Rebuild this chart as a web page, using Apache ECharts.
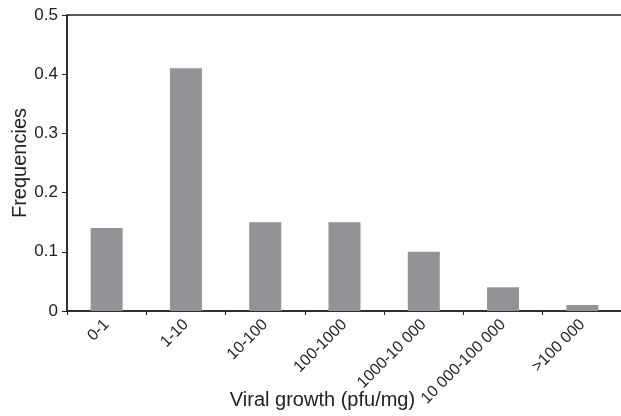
<!DOCTYPE html>
<html>
<head>
<meta charset="utf-8">
<script src="https://cdn.jsdelivr.net/npm/echarts@6/dist/echarts.min.js"></script>
<style>html,body{margin:0;padding:0;background:#fff;}#c{width:621px;height:416px;}</style>
</head>
<body>
<div id="c"></div>
<script>
const categories = ['0-1', '1-10', '10-100', '100-1000', '1000-10 000', '10 000-100 000', '>100 000'];
const frequencies = [0.14, 0.41, 0.15, 0.15, 0.10, 0.04, 0.01];
const yTicks = { min: 0, max: 0.5, interval: 0.1 };
const xName = 'Viral growth (pfu/mg)';
const yName = 'Frequencies';

const font = "'Liberation Sans', Arial, Helvetica, sans-serif";
const lineColor = '#222';
const chart = echarts.init(document.getElementById('c'), null, { renderer: 'canvas' });
chart.setOption({
  animation: false,
  backgroundColor: '#fff',
  grid: { left: 67, right: -1, top: 15, bottom: 105, containLabel: false, outerBoundsMode: 'none', show: true, borderColor: lineColor, borderWidth: 1.5, backgroundColor: 'transparent' },
  xAxis: {
    type: 'category',
    data: categories,
    name: xName,
    nameLocation: 'middle',
    nameGap: 79,
    nameMoveOverlap: false,
    nameTextStyle: { fontFamily: font, fontSize: 20, color: '#222', padding: [0, 44, 0, 0] },
    axisLine: { lineStyle: { color: lineColor, width: 1.5 } },
    axisTick: { show: true, length: 4, lineStyle: { color: lineColor } },
    axisLabel: { rotate: 45, margin: 11, fontFamily: font, fontSize: 16, color: '#222', interval: 0 }
  },
  yAxis: {
    type: 'value',
    min: yTicks.min, max: yTicks.max, interval: yTicks.interval,
    name: yName,
    nameLocation: 'middle',
    nameGap: 37,
    nameMoveOverlap: false,
    nameTextStyle: { fontFamily: font, fontSize: 20, color: '#222' },
    axisLine: { show: true, lineStyle: { color: lineColor, width: 1.5 } },
    axisTick: { show: true, length: 5, lineStyle: { color: lineColor } },
    axisLabel: { margin: 9, fontFamily: font, fontSize: 17, color: '#222' },
    splitLine: { show: false }
  },
  series: [{
    type: 'bar',
    data: frequencies,
    barWidth: 32,
    itemStyle: { color: '#929396' }
  }]
});
</script>
</body>
</html>
